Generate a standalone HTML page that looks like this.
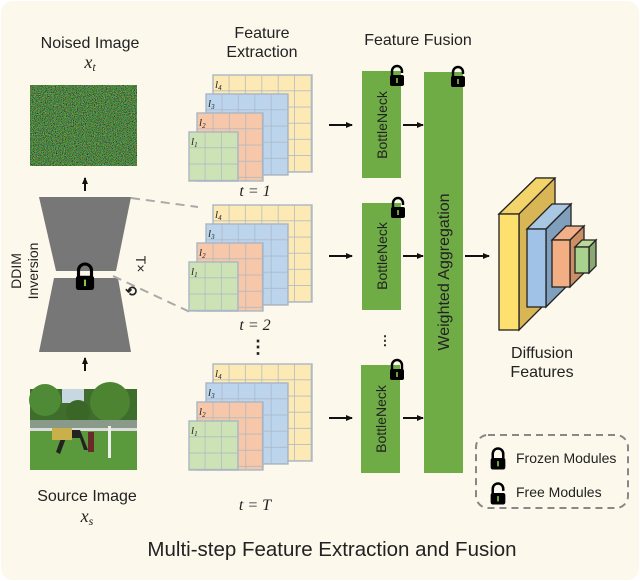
<!DOCTYPE html>
<html><head><meta charset="utf-8"><style>
html,body{margin:0;padding:0;background:#fff;}
svg{display:block;}
text{font-family:"Liberation Sans",sans-serif;fill:#222;}
.m{font-family:"Liberation Serif",serif;font-style:italic;}
</style></head><body>
<svg width="640" height="581" viewBox="0 0 640 581" xmlns="http://www.w3.org/2000/svg">
<defs>
<pattern id="g" patternUnits="userSpaceOnUse" width="16.4" height="16.2">
<path d="M16.4 0V16.2M0 16.2H16.4" stroke="#aab6c4" stroke-width="1.4" fill="none"/>
</pattern>
<filter id="nz" x="0" y="0" width="100%" height="100%">
<feTurbulence type="fractalNoise" baseFrequency="1.1" numOctaves="1" seed="7"/>
<feColorMatrix values="2.2 0 0 0 -0.95  0 2.2 0 0 -0.7  0 0 2.2 0 -1.0  0 0 0 0 0.6"/>
</filter>
<marker id="a" markerWidth="8" markerHeight="8" refX="6" refY="3" orient="auto" markerUnits="userSpaceOnUse"><path d="M0 0L7 3L0 6z" fill="#111"/></marker>
<g id="lockC"><path d="M-5 0V-5a5 5 0 0 1 10 0V0" stroke="#000" stroke-width="2.4" fill="none"/><rect x="-7" y="-1" width="14" height="11" rx="2" fill="#000"/><rect x="-0.8" y="2" width="1.6" height="5" fill="#8bc34a"/></g>
<g id="lockO"><path d="M-5 0V-5a5 5 0 0 1 10 0V-3" stroke="#000" stroke-width="2.4" fill="none"/><rect x="-7" y="-1" width="14" height="11" rx="2" fill="#000"/><rect x="-0.8" y="2" width="1.6" height="5" fill="#8bc34a"/></g>
<g id="stk">
<g transform="translate(213,75)"><rect width="99" height="97" fill="#fce9b4"/><rect width="99" height="97" fill="url(#g)"/><rect width="99" height="97" fill="none" stroke="#aab6c4" stroke-width="1.4"/></g>
<g transform="translate(206,94)"><rect width="82" height="81" fill="#bcd4ec"/><rect width="82" height="81" fill="url(#g)"/><rect width="82" height="81" fill="none" stroke="#aab6c4" stroke-width="1.4"/></g>
<g transform="translate(197,113)"><rect width="66" height="68" fill="#f6c7a8"/><rect width="66" height="68" fill="url(#g)"/><rect width="66" height="68" fill="none" stroke="#aab6c4" stroke-width="1.4"/></g>
<g transform="translate(189,132)"><rect width="49" height="49" fill="#cde3b5"/><rect width="49" height="49" fill="url(#g)"/><rect width="49" height="49" fill="none" stroke="#aab6c4" stroke-width="1.4"/></g>
<text class="m" x="215" y="88" font-size="11">l<tspan font-size="7" dy="2">4</tspan></text>
<text class="m" x="208" y="107" font-size="11">l<tspan font-size="7" dy="2">3</tspan></text>
<text class="m" x="199" y="126" font-size="11">l<tspan font-size="7" dy="2">2</tspan></text>
<text class="m" x="191" y="145" font-size="11">l<tspan font-size="7" dy="2">1</tspan></text>
</g>
</defs>
<rect x="1" y="1" width="638" height="579" rx="12" fill="#fdf8ec"/>

<text x="90" y="48" font-size="16" text-anchor="middle">Noised Image</text>
<text class="m" x="90" y="68" font-size="18" text-anchor="middle">x<tspan font-size="12" dy="3">t</tspan></text>
<rect x="30" y="85" width="107" height="81" fill="#33502a"/>
<rect x="30" y="85" width="107" height="81" filter="url(#nz)"/>

<line x1="85" y1="191" x2="85" y2="178" stroke="#111" stroke-width="2" marker-end="url(#a)"/>
<polygon points="39,197 131,197 116,271 56,271" fill="#777"/>
<polygon points="54,278 118,278 131,352 39,352" fill="#777"/>
<use href="#lockC" transform="translate(85,277) scale(1.3)"/>
<line x1="85" y1="371" x2="85" y2="358" stroke="#111" stroke-width="2" marker-end="url(#a)"/>
<line x1="131" y1="198" x2="198" y2="207" stroke="#aaa" stroke-width="2" stroke-dasharray="9,6"/>
<line x1="113" y1="276" x2="190" y2="312" stroke="#aaa" stroke-width="2" stroke-dasharray="9,6"/>
<text transform="translate(21,271) rotate(-90)" font-size="14" text-anchor="middle">DDIM</text>
<text transform="translate(38,271) rotate(-90)" font-size="14" text-anchor="middle">Inversion</text>
<text transform="translate(136,264) rotate(90)" font-size="14" text-anchor="middle">T×</text>
<text x="131" y="296" font-size="14" font-weight="bold" text-anchor="middle">⟲</text>

<rect x="30" y="389" width="107" height="81" fill="#3f6e2c"/>
<rect x="62" y="389" width="22" height="14" fill="#c8d8e0"/>
<circle cx="45" cy="400" r="16" fill="#4f8a36"/>
<circle cx="110" cy="402" r="20" fill="#4c8432"/>
<circle cx="78" cy="412" r="12" fill="#3a6628"/>
<rect x="30" y="420" width="107" height="10" fill="#8a9a8a"/>
<rect x="30" y="430" width="107" height="40" fill="#5a9a3c"/>
<rect x="30" y="428" width="107" height="3" fill="#ddd"/>
<path d="M56 452 l8-22 h16 l8 20 h-4 l-4-12 h-14 l-6 16z" fill="#222"/>
<rect x="52" y="428" width="20" height="12" fill="#c9b04a"/>
<rect x="88" y="432" width="6" height="20" fill="#6b2a2a"/>
<rect x="108" y="426" width="3" height="32" fill="#eee"/>

<text x="87" y="501" font-size="16" text-anchor="middle">Source Image</text>
<text class="m" x="87" y="522" font-size="18" text-anchor="middle">x<tspan font-size="12" dy="3">s</tspan></text>

<text x="262" y="38" font-size="16" text-anchor="middle">Feature</text>
<text x="262" y="57" font-size="16" text-anchor="middle">Extraction</text>
<use href="#stk"/>
<use href="#stk" y="130"/>
<use href="#stk" y="289"/>
<text class="m" x="255" y="196" font-size="16" text-anchor="middle">t = 1</text>
<text class="m" x="255" y="330" font-size="16" text-anchor="middle">t = 2</text>
<text class="m" x="255" y="510" font-size="16" text-anchor="middle">t = T</text>
<text x="258" y="353" font-size="18" font-weight="bold" text-anchor="middle">⋮</text>

<text x="418" y="45" font-size="16" text-anchor="middle">Feature Fusion</text>
<g stroke="#111" stroke-width="2" marker-end="url(#a)">
<line x1="329" y1="125" x2="352" y2="125"/>
<line x1="329" y1="256" x2="352" y2="256"/>
<line x1="329" y1="418" x2="352" y2="418"/>
<line x1="403" y1="125" x2="423" y2="125"/>
<line x1="403" y1="256" x2="423" y2="256"/>
<line x1="403" y1="418" x2="423" y2="418"/>
<line x1="465" y1="256" x2="489" y2="256"/>
</g>
<g fill="#6fac46">
<rect x="362" y="71" width="39" height="107"/>
<rect x="362" y="203" width="39" height="107"/>
<rect x="361" y="365" width="39" height="108"/>
<rect x="424" y="72" width="39" height="401"/>
</g>
<text transform="translate(387,125) rotate(-90)" font-size="14" text-anchor="middle">BottleNeck</text>
<text transform="translate(387,256) rotate(-90)" font-size="14" text-anchor="middle">BottleNeck</text>
<text transform="translate(386,419) rotate(-90)" font-size="14" text-anchor="middle">BottleNeck</text>
<text transform="translate(449,272) rotate(-90)" font-size="16" text-anchor="middle">Weighted Aggregation</text>
<use href="#lockO" transform="translate(397,76)"/>
<use href="#lockO" transform="translate(458,77)"/>
<use href="#lockO" transform="translate(398,208)"/>
<use href="#lockC" transform="translate(397,370)"/>
<text x="385" y="345" font-size="13" font-weight="bold" text-anchor="middle">⋮</text>

<g stroke="#222" stroke-width="1.3">
<polygon points="499,214 536,178 555,178 555,294 519,330 519,214" fill="#d8b656"/>
<polygon points="499,214 536,178 555,178 519,214" fill="#f3d46a"/>
<rect x="499" y="214" width="20" height="116" fill="#fde06e"/>
<polygon points="546,229 571,204 571,282 546,307" fill="#7f9fbc"/>
<polygon points="527,229 552,204 571,204 546,229" fill="#a9c6e2"/>
<rect x="527" y="229" width="19" height="78" fill="#9fc2e6"/>
<polygon points="570,240 584,226 584,273 570,287" fill="#cc8e64"/>
<polygon points="552,240 566,226 584,226 570,240" fill="#f2b08a"/>
<rect x="552" y="240" width="18" height="47" fill="#f4ae84"/>
<polygon points="589,247 596,240 596,266 589,273" fill="#8ca872"/>
<polygon points="575,247 582,240 596,240 589,247" fill="#b9d89a"/>
<rect x="575" y="247" width="14" height="26" fill="#a9d28e"/>
</g>
<text x="542" y="358" font-size="16" text-anchor="middle">Diffusion</text>
<text x="542" y="377" font-size="16" text-anchor="middle">Features</text>

<rect x="476" y="435" width="152" height="73" rx="12" fill="none" stroke="#888" stroke-width="2" stroke-dasharray="7,5"/>
<use href="#lockC" transform="translate(498,459) scale(1.05)"/>
<use href="#lockO" transform="translate(498,494) scale(1.05)"/>
<text x="516" y="463" font-size="14">Frozen Modules</text>
<text x="516" y="497" font-size="14">Free Modules</text>

<text x="332" y="556" font-size="20.5" text-anchor="middle">Multi-step Feature Extraction and Fusion</text>
</svg>
</body></html>
